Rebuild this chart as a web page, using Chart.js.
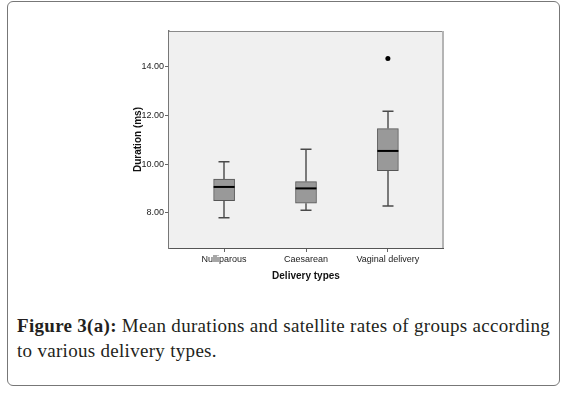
<!DOCTYPE html>
<html>
<head>
<meta charset="utf-8">
<script src="https://cdn.jsdelivr.net/npm/chart.js@4/dist/chart.umd.min.js"></script>
<style>
    html, body { margin: 0; padding: 0; background: #fff; }
    body { width: 566px; height: 394px; position: relative; overflow: hidden; }
    #frame {
        position: absolute; left: 7px; top: 1px; width: 553px; height: 385px;
        box-sizing: border-box; border: 1px solid #777; border-radius: 6px;
    }
    #chart-wrap { position: absolute; left: 0; top: 0; width: 566px; height: 290px; }
    #caption {
        position: absolute; left: 17px; top: 313px; width: 540px;
        font-family: "Liberation Serif", "DejaVu Serif", serif; font-size: 19px;
        letter-spacing: 0.3px; line-height: 25px; color: #231f20;
    }
    #caption b { font-weight: bold; }
</style>
</head>
<body>
<div id="frame"></div>
<div id="chart-wrap"><canvas id="boxChart" width="566" height="290"></canvas></div>
<div id="caption"><b>Figure 3(a):</b> Mean durations and satellite rates of groups according to various delivery types.</div>

<script>
/* global Chart */

// Box plot values (ms)
const categories = ['Nulliparous', 'Caesarean', 'Vaginal delivery'];
const whiskerLow = [7.79, 8.10, 8.28];
const q1 = [8.50, 8.39, 9.73];
const median = [9.06, 9.00, 10.54];
const q3 = [9.38, 9.28, 11.46];
const whiskerHigh = [10.10, 10.61, 12.17];
const outlierGroup = [2];
const outlierValue = [14.34];
const yTicks = [8, 10, 12, 14];

// Plot frame + whiskers/medians drawn through the scales
const boxPlotPlugin = {
    id: 'boxPlot',
    beforeDatasetsDraw(chart) {
        const { ctx, chartArea: a } = chart;
        ctx.save();
        ctx.fillStyle = '#f0f0f0';
        ctx.fillRect(a.left, a.top, a.right - a.left, a.bottom - a.top);
        // top + right frame lines
        ctx.strokeStyle = '#8a8a8a';
        ctx.lineWidth = 1;
        ctx.beginPath();
        ctx.moveTo(a.left, a.top + 0.5);
        ctx.lineTo(a.right, a.top + 0.5);
        ctx.stroke();
        ctx.strokeStyle = '#b4b4b4';
        ctx.lineWidth = 2;
        ctx.beginPath();
        ctx.moveTo(a.right, a.top);
        ctx.lineTo(a.right, a.bottom);
        ctx.stroke();

        // whiskers
        const xs = chart.scales.x;
        const ys = chart.scales.y;
        categories.forEach((c, i) => {
            const x = Math.round(xs.getPixelForValue(i));
            ctx.strokeStyle = '#7a7a7a';
            ctx.lineWidth = 2;
            ctx.beginPath();
            ctx.moveTo(x, ys.getPixelForValue(whiskerHigh[i]));
            ctx.lineTo(x, ys.getPixelForValue(q3[i]));
            ctx.moveTo(x, ys.getPixelForValue(q1[i]));
            ctx.lineTo(x, ys.getPixelForValue(whiskerLow[i]));
            ctx.stroke();
            ctx.strokeStyle = '#4a4a4a';
            ctx.lineWidth = 1.5;
            ctx.beginPath();
            [whiskerHigh[i], whiskerLow[i]].forEach(v => {
                const y = ys.getPixelForValue(v);
                ctx.moveTo(x - 5.5, y);
                ctx.lineTo(x + 5.5, y);
            });
            ctx.stroke();
        });
        ctx.restore();
    },
    afterDatasetsDraw(chart) {
        const { ctx } = chart;
        const xs = chart.scales.x;
        const ys = chart.scales.y;
        ctx.save();
        ctx.strokeStyle = '#000';
        ctx.lineWidth = 2;
        categories.forEach((c, i) => {
            const x = xs.getPixelForValue(i);
            const y = ys.getPixelForValue(median[i]);
            ctx.beginPath();
            ctx.moveTo(x - 10.5, y);
            ctx.lineTo(x + 10.5, y);
            ctx.stroke();
        });
        ctx.restore();
    }
};

const tickFont = { family: 'Liberation Sans, Arial, sans-serif', size: 9 };
const titleFont = { family: 'Liberation Sans, Arial, sans-serif', size: 10, weight: 'bold' };

new Chart(document.getElementById('boxChart'), {
    type: 'bar',
    data: {
        datasets: [{
            label: 'IQR',
            data: categories.map((c, i) => ({ x: i, y: [q1[i], q3[i]] })),
            backgroundColor: '#999999',
            borderColor: '#555555',
            borderWidth: 1,
            borderSkipped: false,
            barThickness: 21
        }, {
            type: 'scatter',
            label: 'Outliers',
            data: outlierGroup.map((g, i) => ({ x: g, y: outlierValue[i] })),
            pointRadius: 2.5,
            pointBackgroundColor: '#000',
            pointBorderWidth: 0
        }]
    },
    options: {
        responsive: false,
        animation: false,
        layout: { padding: { left: 128, right: 123, top: 31, bottom: 0 } },
        plugins: { legend: { display: false }, tooltip: { enabled: false } },
        scales: {
            x: {
                type: 'linear',
                offset: false,
                min: -0.673,
                max: 2.673,
                afterBuildTicks: s => { s.ticks = categories.map((c, i) => ({ value: i })); },
                afterFit: s => { s.height = 42; },
                grid: { drawOnChartArea: false, tickLength: 4, color: '#666', offset: false },
                border: { color: '#555', width: 2 },
                ticks: {
                    padding: 2,
                    color: '#222',
                    font: tickFont,
                    autoSkip: false,
                    maxRotation: 0,
                    callback: v => categories[v]
                },
                title: {
                    display: true,
                    text: 'Delivery types',
                    color: '#111',
                    font: titleFont,
                    padding: { top: 0, bottom: 8 }
                }
            },
            y: {
                min: 6.55,
                max: 15.47,
                afterBuildTicks: s => { s.ticks = yTicks.map(v => ({ value: v })); },
                afterFit: s => { s.width = 41; },
                grid: { drawOnChartArea: false, tickLength: 4, color: '#666' },
                border: { color: '#777', width: 1.5 },
                ticks: {
                    padding: 1,
                    color: '#222',
                    font: tickFont,
                    callback: v => Number(v).toFixed(2)
                },
                title: {
                    display: true,
                    text: 'Duration (ms)',
                    color: '#111',
                    font: titleFont,
                    padding: { top: 4, bottom: 0 }
                }
            }
        }
    },
    plugins: [boxPlotPlugin]
});
</script>
</body>
</html>
